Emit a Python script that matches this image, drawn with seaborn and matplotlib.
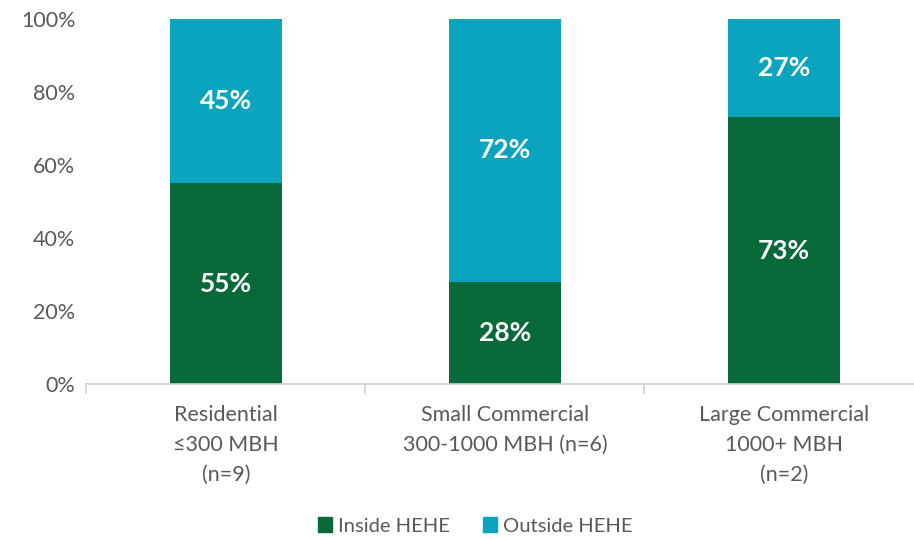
import matplotlib
matplotlib.use("Agg")
import matplotlib.pyplot as plt
import pandas as pd
import seaborn as sb
from matplotlib.patches import Patch

# data
categories = ['Residential\n≤300 MBH\n(n=9)',
              'Small Commercial\n300-1000 MBH (n=6)',
              'Large Commercial\n1000+ MBH\n(n=2)']
inside = [55, 28, 73]
outside = [45, 72, 27]
yticks = [0, 20, 40, 60, 80, 100]

green = '#076A38'
teal = '#0BA4BF'
grey = '#595959'

sb.set_style('white')
plt.rcParams['font.family'] = ['Lato', 'DejaVu Sans']

df = pd.DataFrame({'cat': categories,
                   'inside': inside,
                   'outside': outside})
df['total'] = df['inside'] + df['outside']

fig = plt.figure(figsize=(9.14, 5.4), dpi=100)
# plot area runs a bit past the right edge of the figure, like the original
ax = fig.add_axes([0.0946, 0.289, 0.9158, 0.676])

# total bar in teal, inside part drawn over it in green
sb.barplot(data=df, x='cat', y='total', color=teal, width=0.4,
           saturation=1, linewidth=0, ax=ax)
sb.barplot(data=df, x='cat', y='inside', color=green, width=0.4,
           saturation=1, linewidth=0, ax=ax)

ax.set_ylim(0, 100)
ax.set_xlim(-0.5, 2.5)
ax.set_yticks(yticks)
ax.set_yticklabels([f'{t}%' for t in yticks], fontsize=15.5, color=grey)
ax.tick_params(axis='x', labelsize=15.5, labelcolor=grey, length=0, pad=15)
ax.tick_params(axis='y', length=0, pad=8)
for t in ax.get_xticklabels():
    t.set_linespacing(1.62)
ax.set_xlabel('')
ax.set_ylabel('')

for s in ['top', 'right', 'left']:
    ax.spines[s].set_visible(False)
ax.spines['bottom'].set_color('#D0D0D0')
ax.spines['bottom'].set_linewidth(1.2)

# small separator ticks between categories
for xb in [-0.5, 0.5, 1.5, 2.5]:
    ax.plot([xb, xb], [0, -2.5], color='#D0D0D0', lw=1.2, clip_on=False)

# value labels
for i in range(len(categories)):
    ax.text(i, inside[i] / 2, f'{inside[i]}%', ha='center', va='center',
            color='white', fontsize=19, fontweight='bold')
    ax.text(i, inside[i] + outside[i] / 2, f'{outside[i]}%', ha='center',
            va='center', color='white', fontsize=19, fontweight='bold')

handles = [Patch(color=green, label='Inside HEHE'),
           Patch(color=teal, label='Outside HEHE')]
leg = fig.legend(handles=handles, loc='center', bbox_to_anchor=(0.52, 0.026),
                 ncol=2, frameon=False, fontsize=14.5, handlelength=0.7,
                 handleheight=0.7, columnspacing=1.6, handletextpad=0.3)
for t in leg.get_texts():
    t.set_color(grey)

fig.savefig('out.png', dpi=100)
